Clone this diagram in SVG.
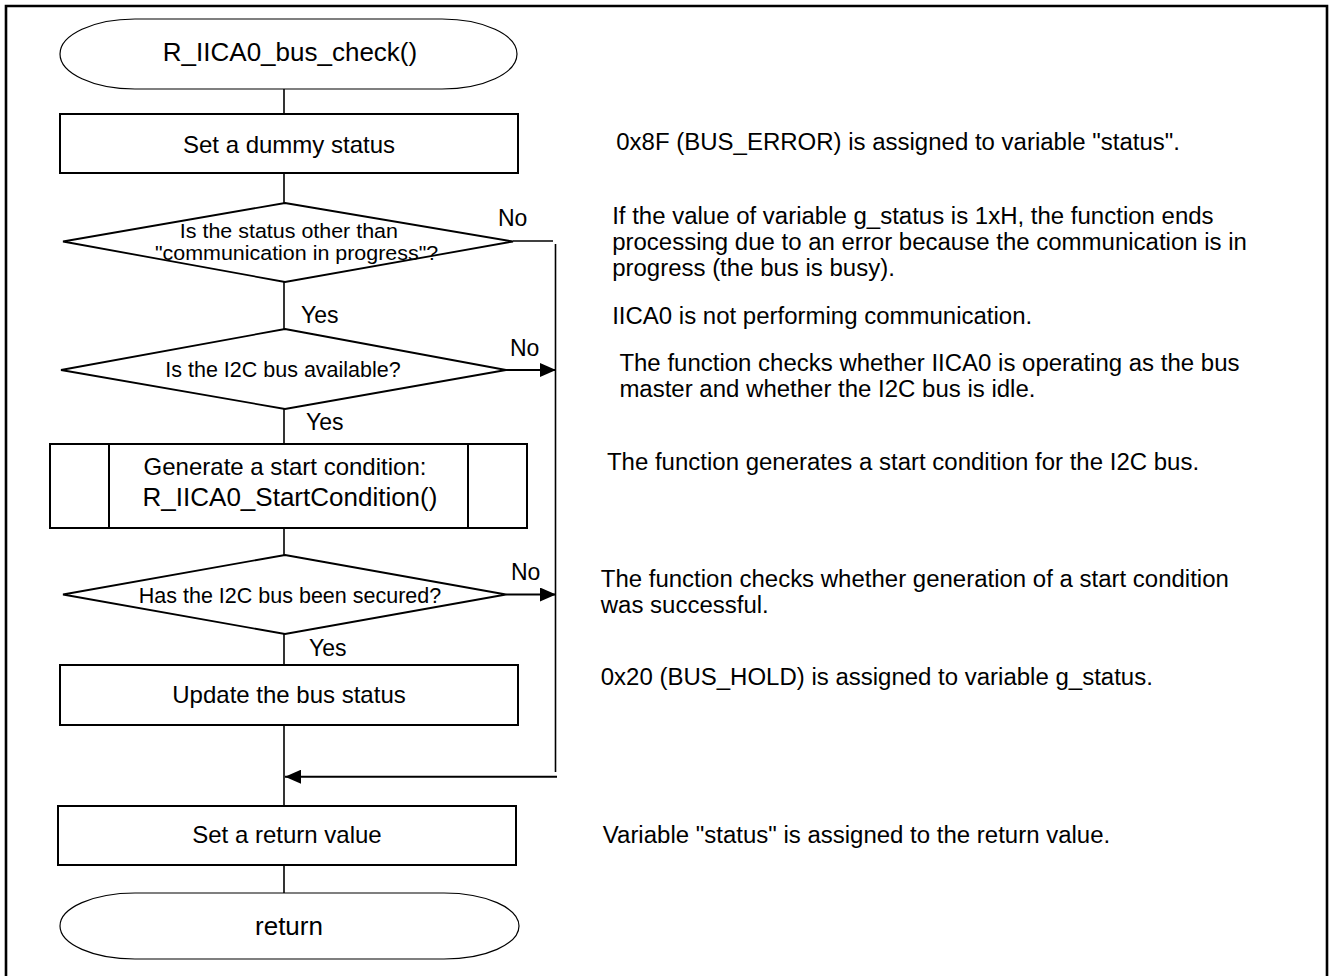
<svg xmlns="http://www.w3.org/2000/svg" width="1330" height="976" viewBox="0 0 1330 976">
  <style>
    text { font-family: "Liberation Sans", Arial, sans-serif; fill: #000; }
    .frame { fill: none; stroke: #000; stroke-width: 2.6; }
    .box { fill: #fff; stroke: #000; stroke-width: 2; }
    .term { fill: #fff; stroke: #000; stroke-width: 1.2; }
    .dia { fill: #fff; stroke: #000; stroke-width: 1.8; }
    .line { fill: none; stroke: #000; stroke-width: 1.6; }
    .bline { fill: none; stroke: #000; stroke-width: 2; }
    .t26 { font-size: 26px; text-anchor: middle; }
    .t24 { font-size: 24px; text-anchor: middle; }
    .t21 { font-size: 21.5px; text-anchor: middle; }
    .t20 { font-size: 19.5px; text-anchor: middle; }
    .lbl { font-size: 23px; }
    .note { font-size: 23.2px; }
  </style>
  <defs>
    <marker id="arr" markerWidth="16" markerHeight="14" refX="16" refY="7" orient="auto" markerUnits="userSpaceOnUse">
      <path d="M0,0 L16,7 L0,14 Z" fill="#000"/>
    </marker>
  </defs>

  <rect width="1330" height="976" fill="#fff"/>
  <path class="frame" d="M6,990 V6 H1327 V990"/>

  <g id="connectors">
    <line class="line" x1="284" y1="89" x2="284" y2="114"/>
    <line class="line" x1="284" y1="173" x2="284" y2="203"/>
    <line class="line" x1="284" y1="282" x2="284" y2="329"/>
    <line class="line" x1="284" y1="409" x2="284" y2="444"/>
    <line class="line" x1="284" y1="528" x2="284" y2="555"/>
    <line class="line" x1="284" y1="634" x2="284" y2="665"/>
    <line class="line" x1="284" y1="725" x2="284" y2="806"/>
    <line class="line" x1="284" y1="865" x2="284" y2="893"/>
    <line class="line" x1="513" y1="241" x2="553" y2="241"/>
    <line class="line" x1="555.5" y1="244" x2="555.5" y2="772"/>
    <line class="bline" x1="506" y1="370" x2="556" y2="370" marker-end="url(#arr)"/>
    <line class="bline" x1="506" y1="594.5" x2="556" y2="594.5" marker-end="url(#arr)"/>
    <line class="bline" x1="557" y1="776.7" x2="285" y2="776.7" marker-end="url(#arr)"/>
    <text class="lbl" x="498" y="226">No</text>
    <text class="lbl" x="301" y="323">Yes</text>
    <text class="lbl" x="510" y="356">No</text>
    <text class="lbl" x="306" y="430">Yes</text>
    <text class="lbl" x="511" y="580">No</text>
    <text class="lbl" x="309" y="656">Yes</text>
  </g>

  <g id="start">
    <rect class="term" x="60" y="19" width="457" height="70" rx="75" ry="35"/>
    <text class="t26" x="290" y="61">R_IICA0_bus_check()</text>
  </g>

  <g id="dummy">
    <rect class="box" x="60" y="114" width="458" height="59"/>
    <text class="t24" x="289" y="153">Set a dummy status</text>
  </g>

  <g id="dec-status">
    <polygon class="dia" points="285,203 513,241.5 285,282 63,241.5"/>
    <g transform="translate(290,0) scale(1.1,1) translate(-290,0)">
      <text class="t20" x="289" y="238">Is the status other than</text>
      <text class="t20" x="296" y="260">"communication in progress"?</text>
    </g>
  </g>

  <g id="dec-bus">
    <polygon class="dia" points="285,329 506,370 285,409 61,370"/>
    <text class="t21" x="283" y="377">Is the I2C bus available?</text>
  </g>

  <g id="start-cond">
    <rect class="box" x="50" y="444" width="477" height="84"/>
    <line class="box" x1="109" y1="444" x2="109" y2="528"/>
    <line class="box" x1="468" y1="444" x2="468" y2="528"/>
    <text class="t24" x="285" y="475">Generate a start condition:</text>
    <text class="t26" x="290" y="506">R_IICA0_StartCondition()</text>
  </g>

  <g id="dec-secured">
    <polygon class="dia" points="285,555 506,594.5 285,634 63,594.5"/>
    <text class="t21" x="290" y="603">Has the I2C bus been secured?</text>
  </g>

  <g id="update">
    <rect class="box" x="60" y="665" width="458" height="60"/>
    <text class="t24" x="289" y="703">Update the bus status</text>
  </g>

  <g id="retval">
    <rect class="box" x="58" y="806" width="458" height="59"/>
    <text class="t24" x="287" y="843">Set a return value</text>
  </g>

  <g id="end">
    <rect class="term" x="60" y="893" width="459" height="66" rx="75" ry="33"/>
    <text class="t26" x="289" y="935">return</text>
  </g>

  <g id="notes" transform="translate(608,0) scale(1.0345,1) translate(-608,0)">
    <text class="note" x="616" y="150">0x8F (BUS_ERROR) is assigned to variable "status".</text>
    <text class="note" x="612" y="224">If the value of variable g_status is 1xH, the function ends</text>
    <text class="note" x="612" y="250">processing due to an error because the communication is in</text>
    <text class="note" x="612" y="276">progress (the bus is busy).</text>
    <text class="note" x="612" y="324">IICA0 is not performing communication.</text>
    <text class="note" x="619" y="371">The function checks whether IICA0 is operating as the bus</text>
    <text class="note" x="619" y="397">master and whether the I2C bus is idle.</text>
    <text class="note" x="607" y="470">The function generates a start condition for the I2C bus.</text>
    <text class="note" x="601" y="587">The function checks whether generation of a start condition</text>
    <text class="note" x="601" y="613">was successful.</text>
    <text class="note" x="601" y="685">0x20 (BUS_HOLD) is assigned to variable g_status.</text>
    <text class="note" x="603" y="843">Variable "status" is assigned to the return value.</text>
  </g>
</svg>
